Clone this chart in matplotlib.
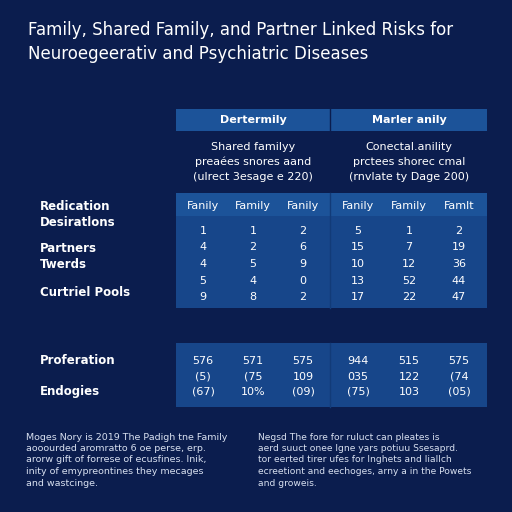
import matplotlib.pyplot as plt
from matplotlib.patches import Rectangle

# Data (text)
title_lines = ['Family, Shared Family, and Partner Linked Risks for',
               'Neuroegeerativ and Psychiatric Diseases']
group_names = ['Dertermily', 'Marler anily']
group_notes = [['Shared familyy', 'preaées snores aand', '(ulrect 3esage e 220)'],
               ['Conectal.anility', 'prctees shorec cmal', '(rnvlate ty Dage 200)']]
col_labels = ['Fanily', 'Family', 'Fanily', 'Fanily', 'Family', 'Famlt']
row_labels = ['Redication', 'Desiratlons', 'Partners', 'Twerds', 'Curtriel Pools']
row_label_y = [207, 222, 249, 265, 293]
upper_values = [['1', '1', '2', '5', '1', '2'],
                ['4', '2', '6', '15', '7', '19'],
                ['4', '5', '9', '10', '12', '36'],
                ['5', '4', '0', '13', '52', '44'],
                ['9', '8', '2', '17', '22', '47']]
lower_labels = ['Proferation', 'Endogies']
lower_label_y = [361, 391]
lower_values = [['576', '571', '575', '944', '515', '575'],
                ['(5)', '(75', '109', '035', '122', '(74'],
                ['(67)', '10%', '(09)', '(75)', '103', '(05)']]
note_left = ['Moges Nory is 2019 The Padigh tne Family',
             'aooourded aromratto 6 oe perse, erp.',
             'arorw gift of forrese of ecusfines. Inik,',
             'inity of emypreontines they mecages',
             'and wastcinge.']
note_right = ['Negsd The fore for ruluct can pleates is',
              'aerd suuct onee lgne yars potiuu Ssesaprd.',
              'tor eerted tirer ufes for Inghets and Iiallch',
              'ecreetiont and eechoges, arny a in the Powets',
              'and groweis.']

BG = '#0b1d4e'
BOX = '#17468a'
HEAD = '#1c5399'
col_x = [203, 253, 303, 358, 409, 459]

fig = plt.figure(figsize=(5.12, 5.12), dpi=100)
fig.patch.set_facecolor(BG)
ax = fig.add_axes([0, 0, 1, 1])
ax.set_xlim(0, 512)
ax.set_ylim(512, 0)
ax.axis('off')

for i, line in enumerate(title_lines):
    ax.text(28, 30 + i * 24, line, color='white', fontsize=12, va='center')

# header band
ax.add_patch(Rectangle((176, 109), 311, 22, color=HEAD, lw=0))
ax.plot([330, 330], [109, 131], color=BG, lw=1)
for g, cx in enumerate([253, 409]):
    ax.text(cx, 120, group_names[g], color='white', fontsize=8, fontweight='bold', ha='center', va='center')
    for k, line in enumerate(group_notes[g]):
        ax.text(cx, 147 + k * 15, line, color='white', fontsize=8, ha='center', va='center')

# upper table
ax.add_patch(Rectangle((176, 193), 311, 115, color=BOX, lw=0))
ax.add_patch(Rectangle((176, 193), 311, 23, color=HEAD, lw=0))
ax.plot([330, 330], [193, 308], color='#123b78', lw=1)
for j, cx in enumerate(col_x):
    ax.text(cx, 206, col_labels[j], color='white', fontsize=8, ha='center', va='center')
    for i, row in enumerate(upper_values):
        ax.text(cx, 231 + i * 16.5, row[j], color='white', fontsize=8, ha='center', va='center')
for lab, y in zip(row_labels, row_label_y):
    ax.text(40, y, lab, color='white', fontsize=8.5, fontweight='bold', va='center')

# lower table
ax.add_patch(Rectangle((176, 343), 311, 64, color=BOX, lw=0))
ax.plot([330, 330], [343, 407], color='#123b78', lw=1)
for j, cx in enumerate(col_x):
    for i, row in enumerate(lower_values):
        ax.text(cx, 361 + i * 15.5, row[j], color='white', fontsize=8, ha='center', va='center')
for lab, y in zip(lower_labels, lower_label_y):
    ax.text(40, y, lab, color='white', fontsize=8.5, fontweight='bold', va='center')

# notes
for k, line in enumerate(note_left):
    ax.text(26, 437 + k * 11.5, line, color='#d8e0f0', fontsize=6.8, va='center')
for k, line in enumerate(note_right):
    ax.text(258, 437 + k * 11.5, line, color='#d8e0f0', fontsize=6.6, va='center')

fig.savefig('out.png', dpi=100, facecolor=BG)
